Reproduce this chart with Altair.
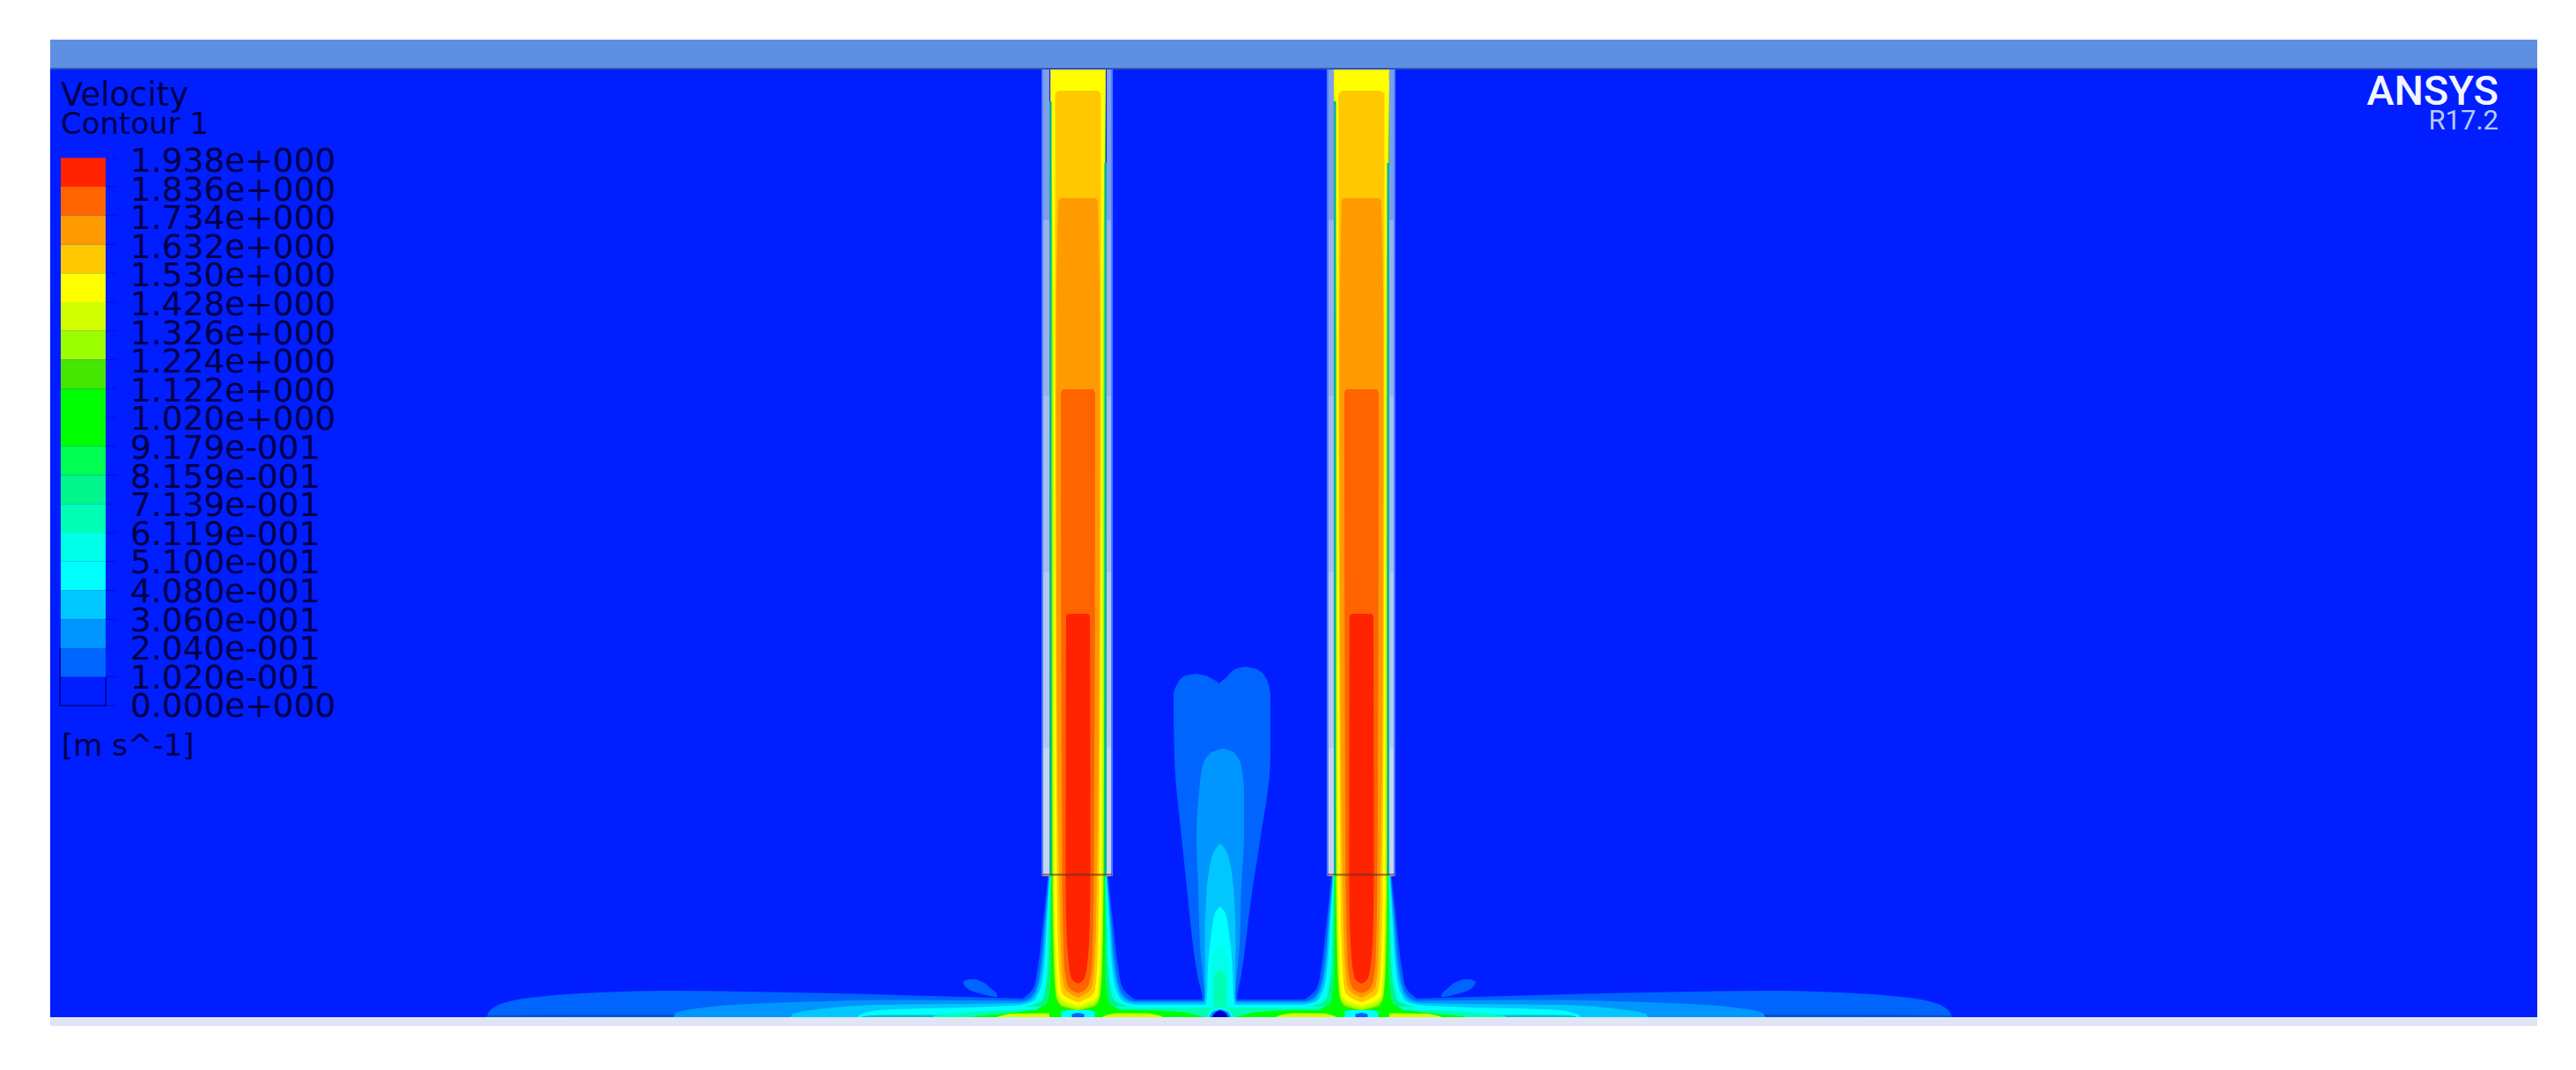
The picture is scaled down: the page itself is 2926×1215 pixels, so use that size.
import altair as alt
import pandas as pd

# ---- colour levels (legend order, top to bottom) ----
LEVEL_NAMES = ["L18", "L17", "L16", "L15", "L14", "L13", "L12", "L11", "L10", "L09",
               "L08", "L07", "L06", "L05", "L04", "L03", "L02", "L01", "L00"]
LEVEL_COLORS = ["#ff2300", "#ff6400", "#ff9b00", "#ffc800", "#ffff00", "#d2ff00", "#9bff00", "#46e600",
                "#00ff00", "#00ff00", "#00ff50", "#00f58c", "#00ffb4", "#00ffe6", "#00ffff", "#00c8ff",
                "#0096ff", "#0064ff", "#001eff"]
EXTRA_NAMES = ["top", "topline", "strip", "wall1", "wall2", "wall3", "wall4", "wall5", "edge", "teal",
               "shade", "sheet", "spot", "frame", "tick", "nozzle"]
EXTRA_COLORS = ["#5f8fe2", "#2f55b5", "#dfe5f5", "#7f9ee8", "#9ab0ee", "#a8bcf0", "#b8c7ef", "#c8d2ee",
                "#4a80ff", "#00b49a", "#0050d2", "#00c0c8", "#0000c8", "#000090", "#0016c0", "#6a3020"]

# ---- legend ----
LEGEND_LABELS = ["1.938e+000", "1.836e+000", "1.734e+000", "1.632e+000", "1.530e+000", "1.428e+000",
                 "1.326e+000", "1.224e+000", "1.122e+000", "1.020e+000", "9.179e-001", "8.159e-001",
                 "7.139e-001", "6.119e-001", "5.100e-001", "4.080e-001", "3.060e-001", "2.040e-001",
                 "1.020e-001", "0.000e+000"]

# ---- pipe jets: rows of y and half widths about each centre ----
CENTER_A, CENTER_B, CENTER_MID = 1224.5, 1546.5, 1385
GREEN_Y = [115, 993, 1100, 1130, 1140, 1146, 1155]
GREEN_HW = [31, 30.5, 31, 33, 36, 46, 48]
Y46_Y = [110, 993, 1090, 1130, 1142, 1149]
Y46_HW = [31, 29.5, 28.5, 26, 22, 0]
Y9B_Y = [100, 993, 1090, 1130, 1141, 1147]
Y9B_HW = [31, 29, 27.5, 25, 20, 0]
YD2_Y = [90, 400, 993, 1090, 1130, 1140, 1145]
YD2_HW = [31.5, 28.5, 28, 26.5, 24, 16, 0]
YELLOW_Y = [79, 200, 400, 993, 1090, 1130, 1138, 1142]
YELLOW_HW = [31.5, 29.5, 27.5, 27, 25, 22, 12, 0]
AMBER_Y = [103, 107, 400, 993, 1090, 1125, 1134, 1138]
AMBER_HW = [22, 26, 26, 24, 22, 19, 10, 0]
ORANGE_Y = [225, 229, 400, 800, 993, 1090, 1120, 1129, 1133]
ORANGE_HW = [20, 22.5, 25, 24, 21.5, 19, 16, 8, 0]
DORANGE_Y = [442, 446, 993, 1090, 1115, 1124, 1128]
DORANGE_HW = [17, 19.5, 18, 16, 13, 8, 0]
RED_Y = [697, 700, 993, 1060, 1090, 1105, 1113, 1117]
RED_HW = [11, 13.5, 14, 13, 11, 9, 6, 0]

# flare of the jets below the nozzle
FLARE_Y = [993, 1050, 1100, 1120, 1130, 1136, 1140, 1143]
FLARE_L01 = [34, 40, 46, 50, 58, 68, 85, 110]
FLARE_L02 = [33, 38, 43, 47, 52, 61, 78, 100]
FLARE_L03 = [32.5, 37, 41, 45, 49, 55, 70, 90]
FLARE_L04 = [32, 35.5, 39, 42, 46, 50, 60, 80]
FLARE_L05 = [31.5, 34, 36.5, 39, 42, 46, 55, 70]
FLARE_L07 = [31, 32.5, 34, 36.5, 38.5, 41, 48, 60]

# ---- floor sheets, left half (x, top y), mirrored about the centre ----
FLOOR_L01_X = [553, 556, 575, 620, 680, 755, 850, 950, 1060, 1130, 1200, 1385]
FLOOR_L01_Y = [1155, 1148, 1138, 1131, 1127, 1125, 1126, 1128, 1131, 1133, 1135, 1135]
FLOOR_L02_X = [765, 768, 800, 850, 934, 1000, 1130, 1200, 1385]
FLOOR_L02_Y = [1155, 1150, 1144, 1140, 1137, 1135.5, 1136, 1137, 1137]
FLOOR_L03_X = [898, 901, 930, 1000, 1100, 1160, 1290, 1385]
FLOOR_L03_Y = [1155, 1151, 1146, 1141, 1140, 1139, 1138.5, 1138.5]
FLOOR_L04_X = [974, 977, 1000, 1050, 1100, 1150, 1180, 1290, 1385]
FLOOR_L04_Y = [1155, 1152, 1147, 1145, 1144, 1142, 1141, 1141, 1141]
FLOOR_L06_X = [1060, 1107, 1150, 1200, 1290, 1385]
FLOOR_L06_Y = [1153.5, 1149, 1147, 1145, 1144.5, 1144.5]
FLOOR_L09_X = [1107, 1150, 1185, 1290, 1340, 1365]
FLOOR_L09_Y = [1154, 1150, 1146.5, 1147, 1149, 1154]
FLOOR_L13A_X = [1133, 1150, 1192]
FLOOR_L13A_Y = [1154.5, 1151, 1150.5]
FLOOR_L13B_X = [1253, 1270, 1300, 1320]
FLOOR_L13B_Y = [1154, 1150.5, 1150.5, 1154]
SHADE_X = [553, 700, 900, 1000]
SHADE_Y = [1153, 1152, 1152, 1153]
SHEET_X = [980, 1000, 1110]
SHEET_Y = [1154, 1152.5, 1152.5]

# ---- centre plume ----
MID_LEFT_Y = [765, 767, 770, 777, 790, 860, 950, 1007, 1107, 1137, 1142]
MID_LEFT_OUT = [1358, 1347, 1342, 1337, 1333, 1334, 1342, 1348, 1360, 1366, 1366]
MID_LEFT_IN = [1358, 1369, 1375, 1385, 1385, 1385, 1385, 1385, 1385, 1385, 1385]
MID_RIGHT_Y = [757, 759, 762, 770, 777, 790, 860, 950, 1007, 1107, 1137, 1142]
MID_RIGHT_IN = [1415, 1405, 1400, 1392, 1385, 1385, 1385, 1385, 1385, 1385, 1385, 1385]
MID_RIGHT_OUT = [1415, 1425, 1431, 1438, 1441, 1443, 1443, 1432, 1423, 1410, 1405, 1405]
MID_L02_Y = [850, 855, 870, 900, 950, 1007, 1073, 1137, 1142]
MID_L02_L = [1390, 1375, 1366, 1362, 1359, 1361, 1363, 1368, 1368]
MID_L02_R = [1390, 1402, 1410, 1413, 1413, 1410, 1408, 1403, 1403]
MID_L03_Y = [958, 965, 985, 1007, 1073, 1130, 1142]
MID_L03_HW = [0, 6, 12, 15, 17.5, 17, 20]
MID_L04_Y = [1029, 1037, 1060, 1100, 1130, 1142, 1147]
MID_L04_HW = [0, 6, 10, 14, 15, 17, 24]
MID_L05_Y = [1073, 1085, 1110, 1135, 1150]
MID_L05_HW = [0, 8, 10, 10, 16]
MID_L06_Y = [1100, 1110, 1135, 1148]
MID_L06_HW = [0, 7, 7, 8]

# ---- blob ----
BLOB_Y = [1112, 1115, 1122, 1128, 1132]
BLOB_L = [1100, 1094, 1098, 1112, 1130]
BLOB_R = [1108, 1116, 1125, 1132, 1133]

# ---- pipe wall shades, top to bottom ----
WALL_SHADES = ["wall1", "wall2", "wall3", "wall4", "wall5"]
WALL_BREAKS = [79, 250, 450, 650, 850, 995]

X_SCALE = alt.Scale(domain=[8, 2918], nice=False, zero=False)
Y_SCALE = alt.Scale(domain=[1207, 8], nice=False, zero=False)
COLOR = alt.Color("level:N", scale=alt.Scale(domain=LEVEL_NAMES + EXTRA_NAMES,
                                             range=LEVEL_COLORS + EXTRA_COLORS), legend=None)
FLOOR = 1155
MIRROR = 2770
layers = []


def hband(level, ys, xl, xr):
    df = pd.DataFrame({"y": ys, "xa": xl, "xb": xr, "level": level})
    layers.append(alt.Chart(df).mark_area(orient="horizontal", interpolate="monotone").encode(
        y=alt.Y("y:Q", scale=Y_SCALE, axis=None),
        x=alt.X("xa:Q", scale=X_SCALE, axis=None),
        x2=alt.X2("xb"), color=COLOR))


def jet(level, ys, hw, center):
    hband(level, ys, [center - h for h in hw], [center + h for h in hw])


def both(level, ys, hw):
    jet(level, ys, hw, CENTER_A)
    jet(level, ys, hw, CENTER_B)


def vband(level, xs, tops):
    df = pd.DataFrame({"x": xs, "ya": tops, "yb": FLOOR, "level": level})
    layers.append(alt.Chart(df).mark_area(interpolate="monotone").encode(
        x=alt.X("x:Q", scale=X_SCALE, axis=None),
        y=alt.Y("ya:Q", scale=Y_SCALE, axis=None),
        y2=alt.Y2("yb"), color=COLOR))


def floor_sheet(level, xs, tops):
    allx = xs + [MIRROR - v for v in reversed(xs[:-1])]
    ally = tops + list(reversed(tops[:-1]))
    vband(level, allx, ally)


def mirrored(level, xs, tops):
    vband(level, xs, tops)
    vband(level, [MIRROR - v for v in reversed(xs)], list(reversed(tops)))


def rect(level, x, x2, y, y2, opacity=1.0):
    df = pd.DataFrame({"x": [x], "xb": [x2], "y": [y], "yb": [y2], "level": [level]})
    layers.append(alt.Chart(df).mark_rect(opacity=opacity).encode(
        x=alt.X("x:Q", scale=X_SCALE, axis=None), x2=alt.X2("xb"),
        y=alt.Y("y:Q", scale=Y_SCALE, axis=None), y2=alt.Y2("yb"), color=COLOR))


def text(rows, size, font="DejaVu Sans", color="#00004a", align="left", weight="normal"):
    df = pd.DataFrame(rows, columns=["x", "y", "t"])
    layers.append(alt.Chart(df).mark_text(align=align, baseline="middle", fontSize=size, font=font,
                                          color=color, fontWeight=weight).encode(
        x=alt.X("x:Q", scale=X_SCALE, axis=None),
        y=alt.Y("y:Q", scale=Y_SCALE, axis=None), text="t:N"))


# background
rect("L00", 57, 2882, 78, FLOOR)
rect("top", 57, 2882, 45, 78)
rect("topline", 57, 2882, 77, 79)
rect("strip", 57, 2882, FLOOR, 1165)

# level 1
floor_sheet("L01", FLOOR_L01_X, FLOOR_L01_Y)
both("L01", FLARE_Y, FLARE_L01)
hband("L01", MID_LEFT_Y, MID_LEFT_OUT, MID_LEFT_IN)
hband("L01", MID_RIGHT_Y, MID_RIGHT_IN, MID_RIGHT_OUT)
hband("L01", BLOB_Y, BLOB_L, BLOB_R)
hband("L01", BLOB_Y, [MIRROR - v for v in BLOB_R], [MIRROR - v for v in BLOB_L])
mirrored("shade", SHADE_X, SHADE_Y)
# level 2
floor_sheet("L02", FLOOR_L02_X, FLOOR_L02_Y)
both("L02", FLARE_Y, FLARE_L02)
hband("L02", MID_L02_Y, MID_L02_L, MID_L02_R)
# level 3
floor_sheet("L03", FLOOR_L03_X, FLOOR_L03_Y)
both("L03", FLARE_Y, FLARE_L03)
jet("L03", MID_L03_Y, MID_L03_HW, 1386)
# level 4
floor_sheet("L04", FLOOR_L04_X, FLOOR_L04_Y)
both("L04", FLARE_Y, FLARE_L04)
jet("L04", MID_L04_Y, MID_L04_HW, 1386)
mirrored("sheet", SHEET_X, SHEET_Y)
# levels 5-7
both("L05", FLARE_Y, FLARE_L05)
jet("L05", MID_L05_Y, MID_L05_HW, 1386)
floor_sheet("L06", FLOOR_L06_X, FLOOR_L06_Y)
jet("L06", MID_L06_Y, MID_L06_HW, 1386)
both("L07", FLARE_Y, FLARE_L07)
# green
mirrored("L09", FLOOR_L09_X, FLOOR_L09_Y)
both("L09", GREEN_Y, GREEN_HW)
# warm levels on the floor
mirrored("L13", FLOOR_L13A_X, FLOOR_L13A_Y)
mirrored("L13", FLOOR_L13B_X, FLOOR_L13B_Y)
# warm levels in the jets
both("L11", Y46_Y, Y46_HW)
both("L12", Y9B_Y, Y9B_HW)
both("L13", YD2_Y, YD2_HW)
both("L14", YELLOW_Y, YELLOW_HW)
both("L15", AMBER_Y, AMBER_HW)
both("L16", ORANGE_Y, ORANGE_HW)
both("L17", DORANGE_Y, DORANGE_HW)
both("L18", RED_Y, RED_HW)
# spots at the floor
for c in (CENTER_A, CENTER_B):
    jet("L04", [1147, 1149, 1155], [12, 19, 19], c)
    jet("L01", [1150, 1152, 1155], [0, 7, 7], c)
jet("L04", [1144, 1147, 1155], [0, 10, 15], 1386)
jet("L02", [1146, 1149, 1155], [0, 9, 12], 1386)
jet("spot", [1147, 1150, 1155], [0, 6, 9], 1386)

# pipe walls
for left, inner_l, inner_r, right in ((1183, 1192, 1257, 1264), (1507, 1515, 1578, 1585)):
    for a, b in ((left, inner_l), (inner_r, right)):
        for i, shade in enumerate(WALL_SHADES):
            rect(shade, a, b, WALL_BREAKS[i], WALL_BREAKS[i + 1])
    rect("edge", left, left + 2, 79, 995)
    rect("edge", right - 2, right, 79, 995)
    rect("teal", inner_l, inner_l + 2.5, 115, 993)
    rect("teal", inner_r - 2.5, inner_r, 185, 993)
    rect("nozzle", left + 1, right - 1, 992, 994.5, 0.6)

# legend bar
BAR_TOP, BAR_STEP = 179.2, 32.75
for i, name in enumerate(LEVEL_NAMES):
    rect(name, 69, 120, BAR_TOP + i * BAR_STEP, BAR_TOP + (i + 1) * BAR_STEP)
for i in range(len(LEVEL_NAMES) + 1):
    rect("tick", 120, 132, BAR_TOP + i * BAR_STEP - 0.5, BAR_TOP + i * BAR_STEP + 0.5)
rect("frame", 67.5, 69, BAR_TOP + 17 * BAR_STEP, BAR_TOP + 19 * BAR_STEP)
rect("frame", 119.5, 121, BAR_TOP + 18 * BAR_STEP, BAR_TOP + 19 * BAR_STEP)
rect("frame", 67.5, 121, BAR_TOP + 19 * BAR_STEP - 1, BAR_TOP + 19 * BAR_STEP + 0.5)

text([[148, 184 + i * 32.6, s] for i, s in enumerate(LEGEND_LABELS)], 37.5)
text([[69, 109, "Velocity"]], 37)
text([[69, 142, "Contour 1"]], 34)
text([[70, 848, "[m s^-1]"]], 34)
text([[2838, 105, "ANSYS"]], 47, font="Roboto", color="#f2f5ff", align="right", weight=500)
text([[2838, 138, "R17.2"]], 31, font="Roboto", color="#b9c8f5", align="right")

chart = alt.layer(*layers).properties(width=2910, height=1199, padding=0).configure_view(stroke=None)
chart.save("out.html", embed_options={"renderer": "svg", "actions": False})
